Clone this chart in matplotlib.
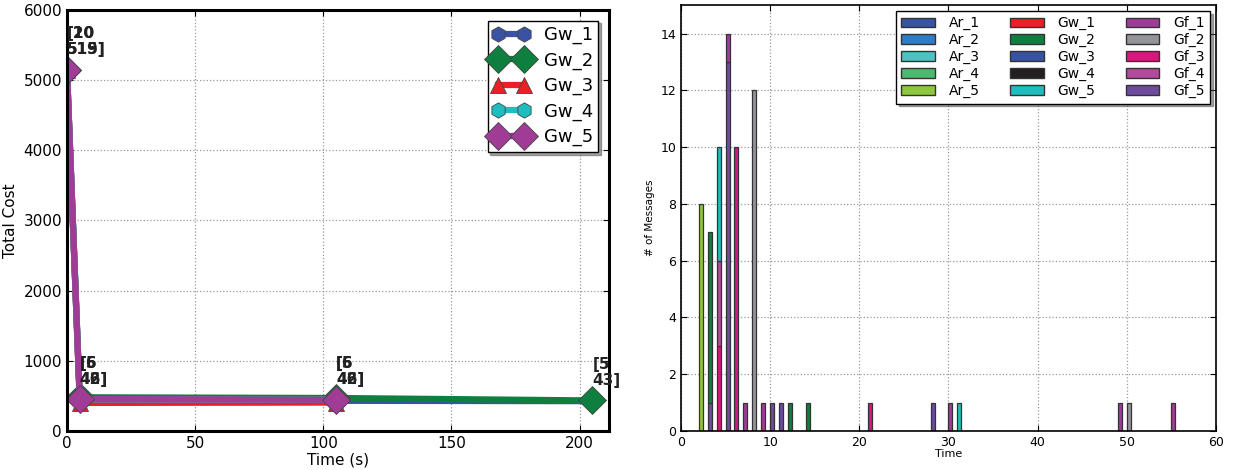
import numpy as np
import matplotlib
matplotlib.use('Agg')
import matplotlib.pyplot as plt
from matplotlib.patches import Patch

# left panel: total cost per gateway over time
gw_names = ['Gw_1', 'Gw_2', 'Gw_3', 'Gw_4', 'Gw_5']
gw_times = [[0, 5, 105, 205], [0, 5, 105, 205], [0, 5, 105], [0, 5, 105], [0, 5, 105]]
gw_cost = [[5150, 440, 430, 425],
           [5150, 480, 470, 435],
           [5150, 400, 405],
           [5150, 450, 445],
           [5150, 455, 445]]
gw_colors = ['#3953a4', '#0f7f3f', '#ed1f24', '#1ebdbf', '#a03c96']
gw_markers = ['h', 'D', '^', 'h', 'D']
gw_msize = [11, 14, 11, 11, 14]

# annotation labels (overlapping, as in the original)
ann_x = [0, 0, 5, 5, 105, 105, 205]
ann_y = [5150, 5150, 450, 450, 450, 450, 435]
ann_txt = ['[10\n515]', '[20\n519]', '[5\n46]', '[6\n42]', '[5\n46]', '[6\n42]', '[5\n43]']

# right panel: number of messages per time step
times = [2, 3, 4, 5, 6, 7, 8, 9, 10, 11, 12, 14, 21, 28, 30, 31, 49, 50, 55]
msg_names = ['Ar_1', 'Ar_2', 'Ar_3', 'Ar_4', 'Ar_5',
             'Gw_1', 'Gw_2', 'Gw_3', 'Gw_4', 'Gw_5',
             'Gf_1', 'Gf_2', 'Gf_3', 'Gf_4', 'Gf_5']
msg_colors = ['#3953a4', '#2e7cc6', '#4cc3c3', '#4cb96e', '#8dc63f',
              '#ed1f24', '#0f7f3f', '#3953a4', '#231f20', '#1ebdbf',
              '#a03c96', '#939598', '#d7177e', '#b34b9c', '#6f4b9e']
#                 2  3  4   5  6   7  8   9 10 11 12 14 21 28 30 31 49 50 55
ar_5 = [8, 0, 0, 0, 0, 0, 0, 0, 0, 0, 0, 0, 0, 0, 0, 0, 0, 0, 0]
gw_2 = [0, 6, 0, 0, 0, 0, 0, 0, 0, 0, 1, 1, 0, 0, 0, 0, 0, 0, 0]
gw_5 = [0, 0, 4, 0, 0, 0, 0, 0, 0, 0, 0, 0, 0, 0, 0, 1, 0, 0, 0]
gf_1 = [0, 0, 0, 1, 0, 1, 0, 1, 0, 0, 0, 0, 0, 0, 1, 0, 1, 0, 1]
gf_2 = [0, 0, 0, 0, 0, 0, 12, 0, 0, 0, 0, 0, 0, 0, 0, 0, 0, 1, 0]
gf_3 = [0, 0, 3, 0, 10, 0, 0, 0, 0, 0, 0, 0, 1, 0, 0, 0, 0, 0, 0]
gf_4 = [0, 0, 3, 0, 0, 0, 0, 0, 0, 0, 0, 0, 0, 0, 0, 0, 0, 0, 0]
gf_5 = [0, 1, 0, 13, 0, 0, 0, 0, 1, 1, 0, 0, 0, 1, 0, 0, 0, 0, 0]

# stacking order, bottom first
stack = [('Gf_5', gf_5), ('Gf_3', gf_3), ('Gf_4', gf_4), ('Gf_1', gf_1),
         ('Gf_2', gf_2), ('Gw_2', gw_2), ('Gw_5', gw_5), ('Ar_5', ar_5)]

fig = plt.figure(figsize=(12.33, 4.70), dpi=100)

# ---- left panel
ax1 = fig.add_axes([0.0543, 0.083, 0.4397, 0.896])
for i in range(len(gw_names)):
    ax1.plot(gw_times[i], gw_cost[i], color=gw_colors[i], lw=4.5,
             marker=gw_markers[i], markersize=gw_msize[i],
             markeredgecolor='#444444', markeredgewidth=0.6, label=gw_names[i])
for x, y, t in zip(ann_x, ann_y, ann_txt):
    ax1.annotate(t, (x, y), xytext=(0, 9), textcoords='offset points',
                 ha='left', va='bottom', fontsize=11, fontweight='heavy',
                 color='#222222', linespacing=1.05)
ax1.set_xlim(0, 211.5)
ax1.set_ylim(0, 6000)
ax1.set_xticks([0, 50, 100, 150, 200])
ax1.set_yticks(np.arange(0, 6001, 1000))
ax1.grid(True, ls=':', color='#999999', lw=0.9)
ax1.tick_params(direction='in', top=True, right=True, labelsize=11, length=4)
ax1.set_xlabel('Time (s)', fontsize=11, labelpad=1)
ax1.set_ylabel('Total Cost', fontsize=11)
for s in ax1.spines.values():
    s.set_linewidth(2.2)
leg1 = ax1.legend(loc='upper right', numpoints=2, fontsize=13, fancybox=False,
                  shadow=True, borderaxespad=0.6, handlelength=2.0,
                  labelspacing=0.4, borderpad=0.3)
leg1.get_frame().set_edgecolor('black')

# ---- right panel
ax2 = fig.add_axes([0.5523, 0.083, 0.4339, 0.906])
bottom = np.zeros(len(times))
for name, vals in stack:
    vals = np.array(vals, dtype=float)
    mask = vals > 0
    ax2.bar(np.array(times)[mask], vals[mask], width=0.45, bottom=bottom[mask],
            align='edge', color=msg_colors[msg_names.index(name)],
            edgecolor='#333333', linewidth=0.9)
    bottom += vals
ax2.set_xlim(0, 60)
ax2.set_ylim(0, 15)
ax2.set_yticks(np.arange(0, 15, 2))
ax2.grid(True, ls=':', color='#999999', lw=0.9)
ax2.set_axisbelow(True)
ax2.tick_params(direction='in', top=True, right=True, labelsize=9, length=4)
ax2.set_xlabel('Time', fontsize=8, labelpad=0)
ax2.set_ylabel('# of Messages', fontsize=7.5)
for s in ax2.spines.values():
    s.set_linewidth(1.2)
handles = [Patch(facecolor=c, edgecolor='#333333') for c in msg_colors]
leg2 = ax2.legend(handles, msg_names, loc='upper right', ncol=3, fontsize=10,
                  fancybox=False, shadow=True, borderaxespad=0.4,
                  handlelength=2.4, handleheight=0.7, columnspacing=2.2,
                  labelspacing=0.2, handletextpad=1.0, borderpad=0.4)
leg2.get_frame().set_edgecolor('black')

fig.savefig('out.png', dpi=100)
